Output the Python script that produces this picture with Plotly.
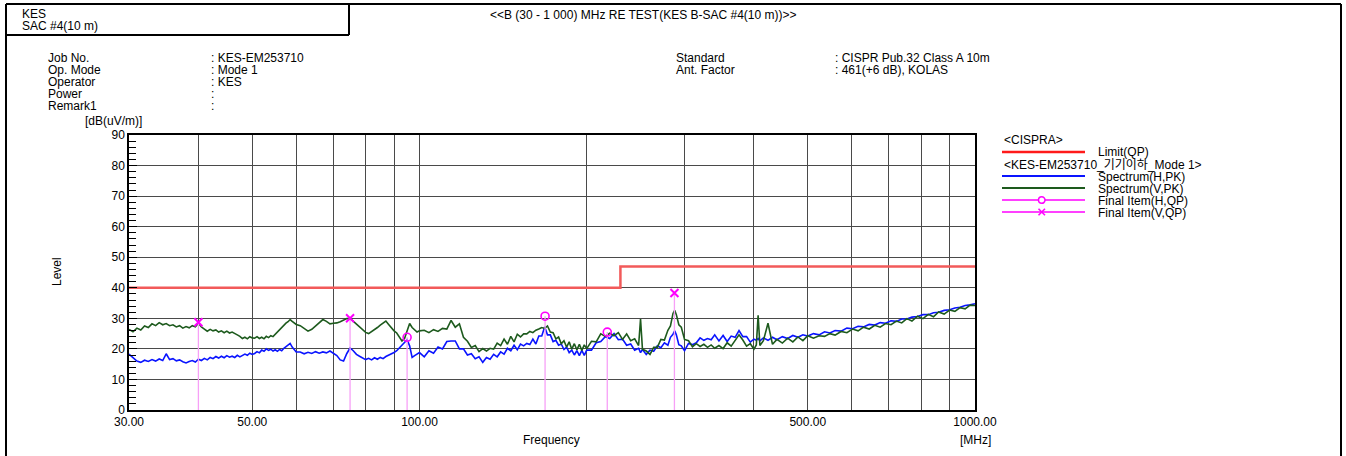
import plotly.graph_objects as go

# ---------------- data ----------------
spec_freq_mhz = [
    30, 30.5, 31, 31.5, 32, 32.5, 33, 33.5, 34, 34.5, 35, 35.5, 36, 36.5, 37, 37.5, 38, 38.5, 39, 39.5, 40,
    40.5, 41, 41.5, 42, 42.5, 43, 43.5, 44, 44.5, 45, 45.5, 46, 46.5, 47, 47.5, 48, 48.5, 49, 49.5, 50,
    50.5, 51, 51.5, 52, 52.5, 53, 53.5, 54, 54.5, 55, 55.5, 56, 56.5, 57, 57.5, 58, 58.5, 59, 59.5, 60,
    61, 62, 63, 64, 65, 66, 67, 68, 69, 70,
    71, 72, 73, 74, 75, 76, 77, 78, 79, 80,
    81, 82, 83, 84, 85, 86, 87, 88, 89, 90,
    91, 92, 93, 94, 95, 96, 97, 98, 99, 100,
    102, 104, 106, 108, 110, 112, 114, 116, 118, 120,
    122, 124, 126, 128, 130, 132, 134, 136, 138, 140,
    142, 144, 146, 148, 150, 152, 154, 156, 158, 160,
    162, 164, 166, 168, 170, 172, 174, 176, 178, 180,
    182, 184, 186, 188, 190, 192, 194, 196, 198, 200,
    204, 208, 212, 216, 220, 224, 228, 232, 236, 240,
    244, 248, 250, 252, 256, 260, 264, 268, 272, 276,
    280, 283, 286, 288, 290, 293, 296, 300, 305, 310,
    315, 320, 325, 330, 335, 340, 346, 352, 358, 364,
    370, 376, 382, 388, 394, 400,
    404, 407, 410, 416, 424, 432, 440, 450, 460, 470,
    480, 490, 500, 512, 524, 536, 548, 560, 574, 588,
    602, 616, 630, 645, 660, 675, 690, 706, 722, 738,
    754, 770, 788, 806, 824, 842, 860, 880, 900, 920,
    940, 960, 980, 1000,
]

spec_h_pk = [  # Spectrum(H,PK) dB(uV/m)
    18.3, 17.2, 16.0, 15.6, 16.3, 15.9, 16.5, 16.0, 16.7, 16.2, 18.4, 16.5, 16.8, 16.1, 16.4, 15.8, 15.4, 15.9, 16.2, 15.7, 16.6,
    16.2, 16.9, 16.4, 17.2, 16.8, 17.5, 17.0, 17.6, 17.1, 17.8, 17.3, 17.6, 17.2, 17.9, 17.4, 17.8, 18.3, 17.9, 18.6, 18.2,
    18.5, 19.1, 18.7, 19.6, 19.2, 20.0, 19.5, 19.9, 19.3, 19.7, 19.2, 19.8, 19.4, 20.2, 20.8, 21.2, 21.8, 20.6, 19.6, 19.0,
    19.0, 18.4, 18.9, 18.5, 19.1, 18.6, 19.0, 18.7, 19.3, 18.6,
    17.8, 16.4, 16.0, 18.5, 20.3, 19.4, 18.2, 17.6, 16.9, 16.5,
    16.9, 16.4, 17.1, 16.6, 17.2, 16.8, 17.5, 17.9, 18.4, 18.8,
    19.4, 20.4, 21.2, 22.4, 23.0, 21.0, 17.2, 17.8, 18.4, 18.8,
    17.4, 19.4, 18.6, 20.6, 20.0, 22.4, 22.6, 22.6, 20.0, 20.0,
    18.0, 18.4, 16.8, 17.4, 15.6, 17.2, 16.6, 18.2, 17.4, 19.0,
    18.3, 20.2, 19.4, 21.2, 19.7, 21.6, 21.0, 21.8, 21.4, 23.2,
    21.6, 24.2, 24.2, 27.2, 24.6, 24.6, 22.4, 22.8, 21.2, 21.6,
    19.8, 20.6, 18.8, 19.6, 18.0, 19.4, 17.8, 19.5, 17.9, 19.6,
    19.6, 22.0, 22.4, 24.0, 23.4, 25.0, 23.0, 23.2, 21.2, 21.6,
    19.6, 20.2, 18.8, 19.8, 18.2, 19.6, 19.2, 21.0, 20.4, 22.0,
    21.2, 23.8, 24.8, 25.9, 24.6, 21.4, 21.0, 19.4, 21.8, 21.4,
    22.0, 23.6, 22.8, 23.4, 23.0, 24.6, 22.6, 24.4, 22.4, 24.2,
    23.8, 26.0, 24.0, 24.0, 22.2, 23.2,
    22.8, 23.4, 22.6, 23.6, 22.8, 23.8, 23.0, 24.0, 23.4, 24.4,
    23.8, 24.6, 24.2, 25.0, 24.6, 25.6, 25.2, 26.0, 25.8, 26.8,
    26.6, 27.4, 27.2, 28.0, 27.8, 28.6, 28.4, 29.2, 29.0, 29.8,
    29.8, 30.4, 30.6, 31.2, 31.2, 31.8, 32.0, 32.6, 32.8, 33.4,
    33.6, 34.2, 34.4, 34.8,
]

spec_v_pk = [  # Spectrum(V,PK) dB(uV/m)
    26.4, 25.6, 26.8, 26.2, 27.5, 27.0, 28.2, 27.6, 28.6, 27.9, 28.3, 27.6, 27.9, 27.2, 27.6, 26.8, 27.3, 26.9, 27.6, 27.2, 28.4,
    27.2, 26.5, 25.8, 26.4, 25.9, 26.2, 25.5, 25.9, 25.3, 25.8, 25.2, 25.5, 24.9, 24.6, 24.1, 23.4, 23.8, 23.3, 24.0, 23.6,
    23.5, 24.0, 23.4, 23.8, 23.3, 24.1, 23.7, 24.3, 24.0, 24.8, 25.5, 26.3, 27.0, 27.6, 28.4, 28.9, 29.6, 29.0, 28.6, 28.0,
    27.6, 26.8, 25.8, 26.4, 27.5, 28.8, 29.6, 29.0, 28.2, 28.4,
    28.5, 28.9, 29.4, 29.9, 30.0, 29.0, 28.1, 27.0, 26.2, 25.4,
    25.0, 25.6, 26.3, 27.0, 27.8, 28.4, 29.1, 28.0, 26.8, 25.9,
    25.2, 24.0, 22.6, 23.4, 25.8, 28.3, 27.0, 26.2, 25.5, 25.9,
    26.1, 25.3, 26.3, 25.7, 26.7, 26.5, 29.3, 27.1, 28.2, 23.8,
    22.5, 20.5, 21.1, 19.1, 20.1, 19.3, 20.2, 19.9, 21.9, 21.1,
    23.2, 21.5, 24.1, 22.3, 24.8, 23.9, 24.9, 24.9, 25.7, 25.3,
    26.1, 26.5, 27.0, 26.7, 27.5, 25.5, 25.3, 23.3, 23.9, 21.7,
    22.7, 20.6, 22.3, 19.9, 21.7, 19.7, 21.5, 19.5, 21.3, 20.1,
    22.5, 22.3, 24.9, 24.1, 25.1, 24.3, 25.3, 23.1, 24.9, 22.7,
    23.3, 21.1, 29.8, 19.9, 19.3, 18.2, 20.5, 20.5, 23.1, 22.9,
    26.1, 27.5, 31.6, 32.6, 31.2, 27.9, 27.1, 23.1, 22.7, 20.7,
    21.7, 20.8, 21.5, 20.5, 21.3, 20.2, 21.1, 20.1, 22.0, 20.9,
    22.7, 24.6, 22.9, 20.9, 21.7, 19.9,
    21.3, 31.0, 21.1, 22.7, 28.4, 21.5, 23.1, 21.9, 23.5, 22.3,
    23.9, 22.7, 24.3, 23.5, 24.3, 24.1, 25.0, 24.5, 25.7, 25.3,
    26.5, 25.9, 27.1, 26.5, 27.7, 27.1, 28.3, 27.9, 29.1, 28.5,
    29.9, 29.1, 30.7, 29.9, 31.3, 30.5, 32.1, 31.4, 32.7, 32.3,
    33.5, 33.1, 34.3, 34.2,
]

limit_freq = [30, 230, 230, 1000]
limit_level = [40, 40, 47, 47]

final_h_freq = [95.0, 168.3, 217.8]
final_h_level = [23.8, 30.7, 25.5]
final_v_freq = [40.0, 75.0, 287.7]
final_v_level = [28.7, 30.0, 38.3]

x_tick_vals = [30, 50, 100, 500, 1000]
x_tick_text = ["30.00", "50.00", "100.00", "500.00", "1000.00"]
x_grid_vals = [40, 60, 70, 80, 90, 200, 300, 400, 600, 700, 800, 900]
y_tick_vals = [0, 10, 20, 30, 40, 50, 60, 70, 80, 90]

assert len(spec_freq_mhz) == len(spec_h_pk) == len(spec_v_pk)

# ---------------- layout helpers ----------------
W, H = 1346, 456
L, R, T, B = 129, 975, 135, 410
FONT = "Liberation Sans, Arial, Noto Sans CJK KR, sans-serif"


def px(x):
    return (x - L) / (R - L)


def py(y):
    return (B - y) / (B - T)


def stems(freqs, levels):
    xs, ys = [], []
    for f, v in zip(freqs, levels):
        xs += [f, f, None]
        ys += [0, v, None]
    return xs, ys


fig = go.Figure()

fig.add_trace(go.Scatter(x=limit_freq, y=limit_level, mode="lines",
                         line=dict(color="#f25a5a", width=2.5), showlegend=False))
fig.add_trace(go.Scatter(x=spec_freq_mhz, y=spec_h_pk, mode="lines",
                         line=dict(color="#0a14ff", width=1.6), showlegend=False))
fig.add_trace(go.Scatter(x=spec_freq_mhz, y=spec_v_pk, mode="lines",
                         line=dict(color="#1d5a1d", width=1.6), showlegend=False))

hx, hy = stems(final_h_freq, final_h_level)
vx, vy = stems(final_v_freq, final_v_level)
fig.add_trace(go.Scatter(x=hx, y=hy, mode="lines", line=dict(color="#f7a0f7", width=1.3),
                         showlegend=False))
fig.add_trace(go.Scatter(x=vx, y=vy, mode="lines", line=dict(color="#f7a0f7", width=1.3),
                         showlegend=False))
fig.add_trace(go.Scatter(x=final_h_freq, y=final_h_level, mode="markers",
                         marker=dict(symbol="circle-open", size=8, color="#ff00ff",
                                     line=dict(width=1.6, color="#ff00ff")),
                         showlegend=False))
fig.add_trace(go.Scatter(x=final_v_freq, y=final_v_level, mode="markers",
                         marker=dict(symbol="x-thin", size=8, color="#ff00ff",
                                     line=dict(width=2, color="#ff00ff")),
                         showlegend=False))

fig.update_xaxes(
    type="log", range=[1.4771212547, 3.0],
    tickvals=x_tick_vals, ticktext=x_tick_text, ticks="",
    showgrid=True, gridcolor="#4a4a4a", gridwidth=1,
    minor=dict(tickvals=x_grid_vals, showgrid=True, gridcolor="#4a4a4a", gridwidth=1, ticks=""),
    showline=True, linecolor="black", linewidth=1.5, mirror=True,
    tickfont=dict(family=FONT, size=12, color="black"), zeroline=False,
)
fig.update_yaxes(
    range=[0, 90], tickvals=y_tick_vals, ticks="inside", ticklen=8, tickcolor="black",
    showgrid=True, gridcolor="#4a4a4a", gridwidth=1,
    minor=dict(dtick=2, ticks="inside", ticklen=7, tickcolor="black", showgrid=False),
    showline=True, linecolor="black", linewidth=1.5, mirror=True,
    tickfont=dict(family=FONT, size=12, color="black"), zeroline=False,
)

shapes = []
ann = []


def hline(x0, x1, y, color="black", width=2):
    shapes.append(dict(type="line", xref="paper", yref="paper", x0=px(x0), x1=px(x1),
                       y0=py(y), y1=py(y), line=dict(color=color, width=width)))


def vline(x, y0, y1, color="black", width=2):
    shapes.append(dict(type="line", xref="paper", yref="paper", x0=px(x), x1=px(x),
                       y0=py(y0), y1=py(y1), line=dict(color=color, width=width)))


def text(x, y, s, anchor="left", size=12, angle=0):
    ann.append(dict(xref="paper", yref="paper", x=px(x), y=py(y), text=s, showarrow=False,
                    xanchor=anchor, yanchor="middle", textangle=angle, borderpad=0,
                    font=dict(family=FONT, size=size, color="black")))


# outer frame and header box
hline(6, 1341, 4)
vline(6, 4, 456)
vline(1341, 4, 456)
hline(6, 349, 35)
vline(349, 4, 35)

text(21, 14, "KES")
text(21, 26, "SAC #4(10 m)")
text(643, 15, "&lt;&lt;B (30 - 1 000) MHz RE TEST(KES B-SAC #4(10 m))&gt;&gt;", anchor="center")

left_labels = ["Job No.", "Op. Mode", "Operator", "Power", "Remark1"]
left_values = [": KES-EM253710", ": Mode 1", ": KES", ":", ":"]
for i, (a, b) in enumerate(zip(left_labels, left_values)):
    text(47, 58 + 12 * i, a)
    text(210, 58 + 12 * i, b)
right_labels = ["Standard", "Ant. Factor"]
right_values = [": CISPR Pub.32 Class A 10m", ": 461(+6 dB), KOLAS"]
for i, (a, b) in enumerate(zip(right_labels, right_values)):
    text(675, 58 + 12 * i, a)
    text(834, 58 + 12 * i, b)

text(143, 121, "[dB(uV/m)]", anchor="right")
text(57, 272, "Level", anchor="center", angle=-90)
text(551, 440, "Frequency", anchor="center")
text(975, 440, "[MHz]", anchor="center")

# legend
text(1003, 140, "&lt;CISPRA&gt;")
hline(1002, 1085, 152, color="#ff1a1a", width=2.5)
text(1097, 152, "Limit(QP)")
text(1003, 165, "&lt;KES-EM253710_기기이하_Mode 1&gt;")
hline(1002, 1085, 176, color="#0a14ff", width=2)
text(1097, 177, "Spectrum(H,PK)")
hline(1002, 1085, 188, color="#1d5a1d", width=2)
text(1097, 189, "Spectrum(V,PK)")
hline(1002, 1085, 200, color="#ff00ff", width=1.5)
shapes.append(dict(type="circle", xref="paper", yref="paper",
                   x0=px(1038.5), x1=px(1045), y0=py(196.8), y1=py(203.3),
                   line=dict(color="#ff00ff", width=1.5), fillcolor="white"))
text(1097, 201, "Final Item(H,QP)")
hline(1002, 1085, 212, color="#ff00ff", width=1.5)
shapes.append(dict(type="line", xref="paper", yref="paper", x0=px(1038.5), x1=px(1045),
                   y0=py(208.8), y1=py(215.3), line=dict(color="#ff00ff", width=1.6)))
shapes.append(dict(type="line", xref="paper", yref="paper", x0=px(1038.5), x1=px(1045),
                   y0=py(215.3), y1=py(208.8), line=dict(color="#ff00ff", width=1.6)))
text(1097, 213, "Final Item(V,QP)")

fig.update_layout(
    width=W, height=H,
    margin=dict(l=L, r=W - R, t=T, b=H - B, pad=0),
    paper_bgcolor="white", plot_bgcolor="white",
    shapes=shapes, annotations=ann, showlegend=False,
    font=dict(family=FONT, size=12, color="black"),
)

fig.write_html("out.html")
